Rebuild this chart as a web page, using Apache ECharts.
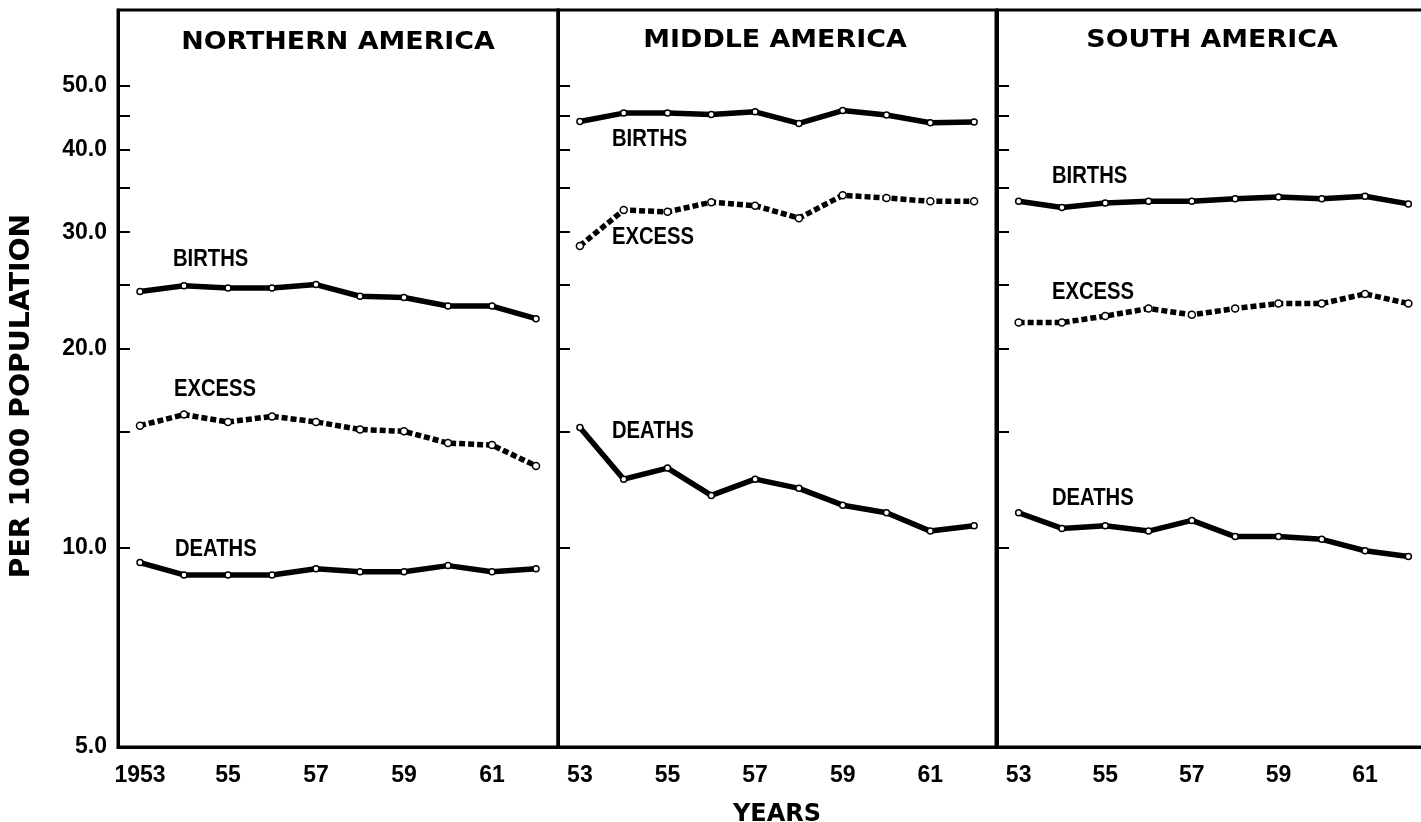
<!DOCTYPE html>
<html><head><meta charset="utf-8">
<script src="https://cdn.jsdelivr.net/npm/echarts@6/dist/echarts.min.js"></script>
<style>html,body{margin:0;padding:0;background:#fff}#c{width:1421px;height:822px}</style>
</head><body><div id="c"></div>
<script>
// ---- data ----
const years = ['1953','1954','1955','1956','1957','1958','1959','1960','1961','1962'];
const regions = ['NORTHERN AMERICA', 'MIDDLE AMERICA', 'SOUTH AMERICA'];
const birthsNA = [24.4, 24.9, 24.7, 24.7, 25.0, 24.0, 23.9, 23.2, 23.2, 22.2];
const excessNA = [15.3, 15.9, 15.5, 15.8, 15.5, 15.1, 15.0, 14.4, 14.3, 13.3];
const deathsNA = [9.5, 9.1, 9.1, 9.1, 9.3, 9.2, 9.2, 9.4, 9.2, 9.3];
const birthsMA = [44.1, 45.4, 45.4, 45.2, 45.6, 43.8, 45.8, 45.1, 43.9, 44.0];
const excessMA = [28.6, 32.4, 32.2, 33.3, 32.9, 31.5, 34.1, 33.8, 33.4, 33.4];
const deathsMA = [15.2, 12.7, 13.2, 12.0, 12.7, 12.3, 11.6, 11.3, 10.6, 10.8];
const birthsSA = [33.4, 32.7, 33.2, 33.4, 33.4, 33.7, 33.9, 33.7, 34.0, 33.1];
const excessSA = [21.9, 21.9, 22.4, 23.0, 22.5, 23.0, 23.4, 23.4, 24.2, 23.4];
const deathsSA = [11.3, 10.7, 10.8, 10.6, 11.0, 10.4, 10.4, 10.3, 9.9, 9.7];
const yTickValues = [5, 10, 15, 20, 25, 30, 35, 40, 45, 50];
const yLabelValues = [5, 10, 20, 30, 40, 50];
const seriesNames = ['BIRTHS', 'EXCESS', 'DEATHS'];
const yAxisTitle = 'PER 1000 POPULATION';
const xAxisTitle = 'YEARS';

// ---- layout / style ----
const NUMFONT = "'Liberation Sans', Arial, sans-serif";
const WIDE = "'DejaVu Sans', Verdana, sans-serif";
const panels = [
  { left: 118, width: 440, data: [birthsNA, excessNA, deathsNA],
    labelPos: [[173, 260], [174, 390], [175, 550]], titleX: 338, titleY: 43 },
  { left: 558, width: 438, data: [birthsMA, excessMA, deathsMA],
    labelPos: [[612, 140], [612, 238], [612, 432]], titleX: 775, titleY: 41 },
  { left: 997, width: 433, data: [birthsSA, excessSA, deathsSA],
    labelPos: [[1052, 177], [1052, 293], [1052, 499]], titleX: 1212, titleY: 41 }
];
const TOP = 10, HEIGHT = 737;

const grid = [], xAxis = [], yAxis = [], series = [], graphic = [];
panels.forEach((p, i) => {
  grid.push({ left: p.left, top: TOP, width: p.width, height: HEIGHT, outerBoundsMode: 'none',
    show: true, borderColor: '#000', borderWidth: 3, backgroundColor: 'transparent' });
  xAxis.push({
    type: 'category', gridIndex: i, data: years, boundaryGap: true,
    axisLine: { lineStyle: { color: '#000', width: 3 } },
    axisTick: { inside: true, length: 10, alignWithLabel: true, interval: 0,
      lineStyle: { color: '#000', width: 2 } },
    axisLabel: { interval: 1, margin: 17, color: '#000', fontFamily: NUMFONT,
      fontWeight: 'bold', fontSize: 23,
      formatter: (v, idx) => (i === 0 && idx === 0) ? v : v.slice(2) },
    splitLine: { show: false },
    name: i === 1 ? xAxisTitle : '', nameLocation: 'middle', nameGap: 56,
    nameTextStyle: { fontFamily: WIDE, fontWeight: 'bold', fontSize: 24, color: '#000' }
  });
  yAxis.push({
    type: 'log', logBase: 10, gridIndex: i, min: 5, max: 65,
    axisLine: { show: true, lineStyle: { color: '#000', width: 3 } },
    axisTick: { show: true, inside: true, length: 12, customValues: yTickValues,
      lineStyle: { color: '#000', width: 2 } },
    axisLabel: { show: i === 0, customValues: yLabelValues, margin: 11, color: '#000',
      fontFamily: NUMFONT, fontWeight: 'bold', fontSize: 23,
      formatter: v => Number(v).toFixed(1) },
    splitLine: { show: false }, minorTick: { show: false }
  });
  graphic.push({ type: 'text', x: p.titleX, y: p.titleY, scaleX: 1.12,
    style: { text: regions[i], fill: '#000', font: 'bold 24px ' + WIDE,
      textAlign: 'center', textVerticalAlign: 'middle' } });
  p.data.forEach((d, k) => {
    series.push({
      type: 'line', xAxisIndex: i, yAxisIndex: i, data: d, name: seriesNames[k],
      symbol: 'circle', symbolSize: k === 1 ? 7 : 6, showAllSymbol: true,
      itemStyle: { color: '#fff', borderColor: '#000', borderWidth: 1.5 },
      lineStyle: { color: '#000', width: 5.5,
        type: k === 1 ? [6, 3] : 'solid', cap: 'butt', join: 'round' },
      z: 3, animation: false
    });
    graphic.push({ type: 'text', x: p.labelPos[k][0], y: p.labelPos[k][1], scaleX: 0.88,
      style: { text: seriesNames[k], fill: '#000', font: 'bold 23px ' + NUMFONT,
        textAlign: 'left', textVerticalAlign: 'middle' } });
  });
});
graphic.push({ type: 'text', x: 22, y: 396, rotation: Math.PI / 2, scaleX: 1.09,
  style: { text: yAxisTitle, fill: '#000', font: 'bold 26px ' + WIDE,
    textAlign: 'center', textVerticalAlign: 'middle' } });

const chart = echarts.init(document.getElementById('c'), null, { renderer: 'canvas' });
chart.setOption({ animation: false, backgroundColor: '#fff', grid, xAxis, yAxis, series, graphic });
</script></body></html>
